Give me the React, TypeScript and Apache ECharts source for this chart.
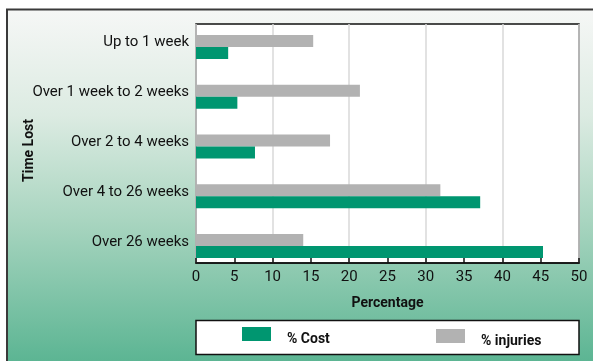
import React, { useEffect, useRef } from "react";
import * as echarts from "echarts";

const categories = [
  "Up to 1 week",
  "Over 1 week to 2 weeks",
  "Over 2 to 4 weeks",
  "Over 4 to 26 weeks",
  "Over 26 weeks",
];
const costValues = [4.2, 5.4, 7.7, 37.1, 45.3];
const injuryValues = [15.3, 21.4, 17.5, 31.9, 14.0];
const seriesNames = ["% Cost", "% injuries"];
const xMin = 0;
const xMax = 50;
const xStep = 5;
const gridStep = 10;

const FONT = "Roboto, 'DejaVu Sans Condensed', sans-serif";
const GREEN = "#009670";
const GREY = "#b2b2b2";

export default function App() {
  const ref = useRef<HTMLDivElement>(null);
  useEffect(() => {
    if (!ref.current) return;
    const chart = echarts.init(ref.current, undefined, { renderer: "svg" });
    const bg = new echarts.graphic.LinearGradient(
      0, 9.5, 0, 361,
      [
        { offset: 0, color: "#f6f7f6" },
        { offset: 0.3, color: "#dcebe2" },
        { offset: 0.6, color: "#a9d5c0" },
        { offset: 1, color: "#5cb593" },
      ],
      true
    );
    const legendText = {
      color: "#111111", fontSize: 14, fontWeight: "bold", fontFamily: FONT,
      padding: [0, 0, 0, 11],
      rich: {
        t: { color: "#111111", fontSize: 14, fontWeight: "bold", fontFamily: FONT, padding: [8, 0, 0, 0] },
      },
    };
    chart.setOption({
      animation: false,
      textStyle: { fontFamily: FONT },
      graphic: [
        { type: "rect", z: -20, silent: true, shape: { x: 0, y: 0, width: 593, height: 361 }, style: { fill: "#ffffff" } },
        { type: "rect", z: -10, silent: true, shape: { x: 7, y: 9.5, width: 620, height: 400 }, style: { fill: bg, stroke: "#3a3a3a", lineWidth: 2 } },
        { type: "rect", z: 0, silent: true, shape: { x: 196, y: 320.5, width: 383, height: 34 }, style: { fill: "#ffffff", stroke: "#111111", lineWidth: 1.5 } },
      ],
      grid: [
        { left: 196, top: 22, width: 383, height: 249, show: false, outerBoundsMode: "none", containLabel: false },
        { left: 196, top: 24, width: 383, height: 239, show: true, backgroundColor: "#ffffff", borderColor: "#111111", borderWidth: 1.5, outerBoundsMode: "none", containLabel: false },
      ],
      xAxis: [
        { type: "value", gridIndex: 0, min: xMin, max: xMax, show: false },
        {
          type: "value", gridIndex: 1, min: xMin, max: xMax, interval: xStep, position: "bottom",
          axisLine: { show: true, onZero: false, lineStyle: { color: "#111111", width: 1.5 } },
          axisTick: { show: true, inside: true, length: 5, lineStyle: { color: "#111111", width: 1.5 } },
          axisLabel: { color: "#111111", fontSize: 15, margin: 5, fontFamily: FONT },
          splitLine: { show: false },
          name: "Percentage", nameLocation: "middle", nameGap: 32, nameMoveOverlap: false,
          nameTextStyle: { color: "#111111", fontSize: 14, fontWeight: "bold", fontFamily: FONT },
        },
        {
          type: "value", gridIndex: 1, min: xMin, max: xMax, interval: gridStep, position: "top",
          axisLine: { show: false }, axisTick: { show: false }, axisLabel: { show: false },
          splitLine: { show: true, lineStyle: { color: "#d9d9d9", width: 1.5 } },
        },
      ],
      yAxis: [
        {
          type: "category", gridIndex: 0, data: categories, inverse: true,
          axisLine: { show: false }, axisTick: { show: false },
          axisLabel: { color: "#111111", fontSize: 15, margin: 7, verticalAlign: "bottom", lineHeight: 11, fontFamily: FONT },
          name: "Time Lost", nameLocation: "middle", nameRotate: 90, nameGap: 161, nameMoveOverlap: false,
          nameTextStyle: { color: "#111111", fontSize: 14, fontWeight: "bold", fontFamily: FONT, padding: [0, 8, 0, 0] },
        },
        { type: "value", gridIndex: 1, min: 0, max: 1, show: false },
      ],
      legend: [
        {
          data: [seriesNames[0]], left: 242, top: 327, padding: 0, itemWidth: 29, itemHeight: 14, icon: "rect",
          formatter: "{t|{name}}", textStyle: legendText, selectedMode: false,
        },
        {
          data: [seriesNames[1]], left: 436, top: 329, padding: 0, itemWidth: 29, itemHeight: 14, icon: "rect",
          formatter: "{t|{name}}", textStyle: legendText, selectedMode: false,
        },
      ],
      series: [
        {
          name: seriesNames[1], type: "bar", xAxisIndex: 0, yAxisIndex: 0, data: injuryValues,
          barWidth: 12, barGap: "0%", itemStyle: { color: GREY },
        },
        {
          name: seriesNames[0], type: "bar", xAxisIndex: 0, yAxisIndex: 0, data: costValues,
          barWidth: 12, barGap: "0%", itemStyle: { color: GREEN },
        },
      ],
    });
    return () => chart.dispose();
  }, []);
  return (
    <div
      ref={ref}
      style={{ position: "fixed", left: 0, top: 0, width: 593, height: 361 }}
    />
  );
}
